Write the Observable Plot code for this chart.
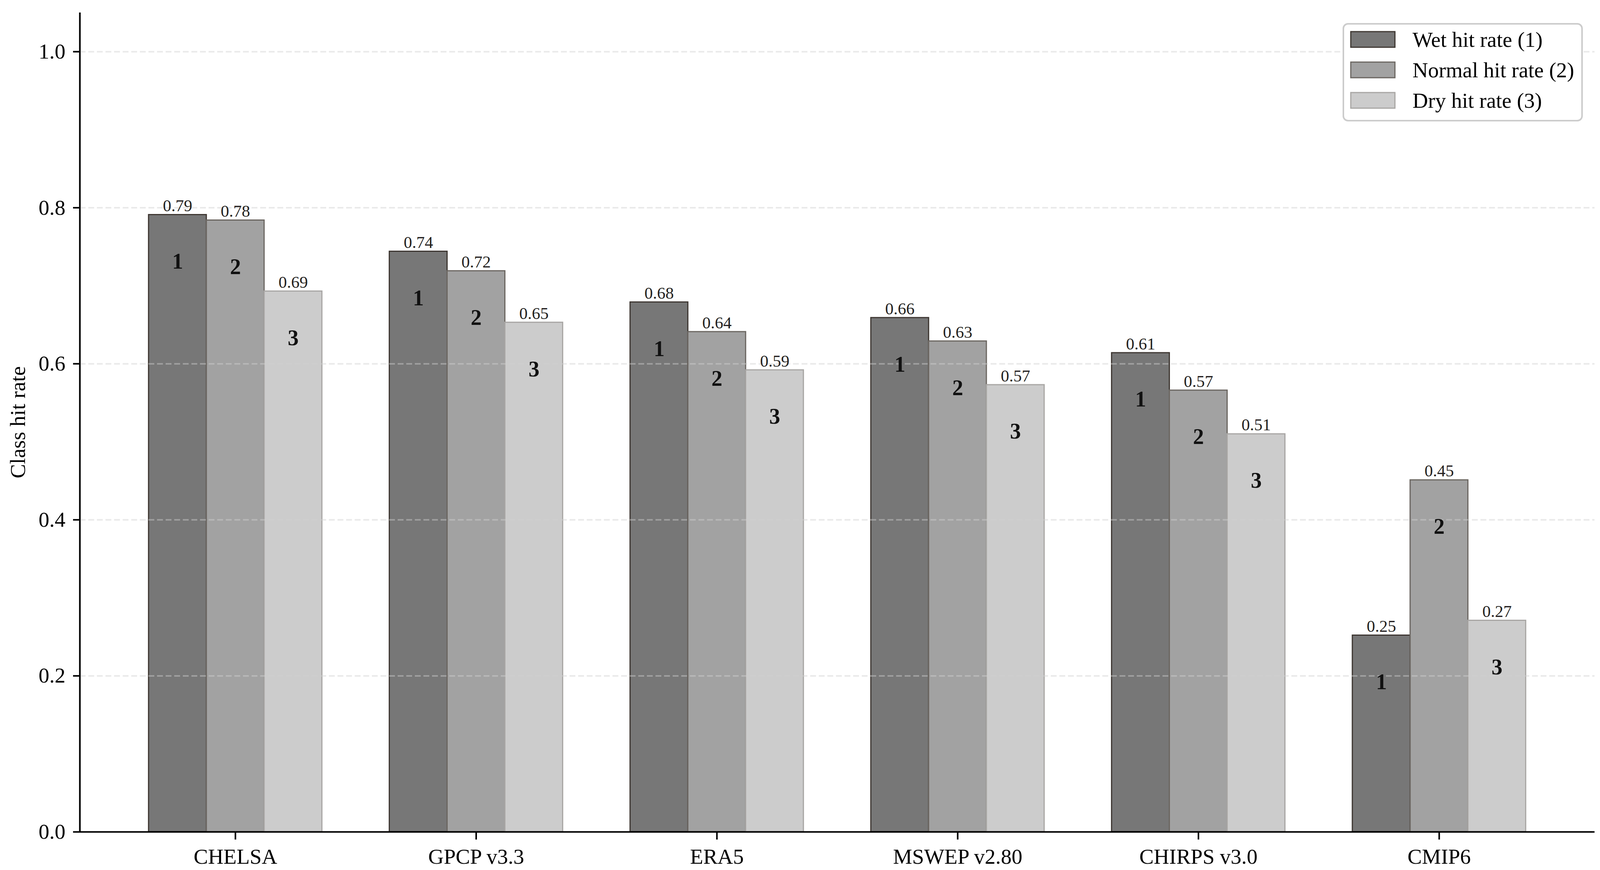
<!DOCTYPE html>
<html>
<head>
<meta charset="utf-8">
<script src="https://cdn.jsdelivr.net/npm/d3@7"></script>
<script src="https://cdn.jsdelivr.net/npm/@observablehq/plot@0.6"></script>
<style>
  html, body { margin: 0; padding: 0; background: #ffffff; overflow: hidden; }
  #wrap { position: relative; width: 4109px; height: 2228px; }
  #wrap > svg:first-child { display: block; }
  #legend { position: absolute; left: 3437px; top: 59px; }
</style>
</head>
<body>
<div id="wrap"></div>
<script>
// ---- data ----
const datasets = ["CHELSA", "GPCP v3.3", "ERA5", "MSWEP v2.80", "CHIRPS v3.0", "CMIP6"];
const classNames = ["Wet hit rate (1)", "Normal hit rate (2)", "Dry hit rate (3)"];
const classNumbers = ["1", "2", "3"];
const wetRate    = [0.791, 0.744, 0.679, 0.659, 0.614, 0.252];
const normalRate = [0.784, 0.719, 0.641, 0.629, 0.566, 0.451];
const dryRate    = [0.693, 0.653, 0.592, 0.573, 0.510, 0.271];
const yTicks = [0, 0.2, 0.4, 0.6, 0.8, 1.0];
const gridTicks = [0.2, 0.4, 0.6, 0.8, 1.0];

// ---- styles ----
const fills = ["#777777", "#a2a2a2", "#cccccc"];
const strokes = ["#3d3631", "#6b6661", "#a8a6a4"];
const barWidth = 0.24;
const xDomain = [-0.646, 5.646];
const yDomain = [0, 1.05];
const font = "'Liberation Serif', 'Times New Roman', serif";

const series = [wetRate, normalRate, dryRate];
const rows = [];
series.forEach((vals, k) => {
  vals.forEach((v, i) => {
    const c = i + (k - 1) * barWidth;
    rows.push({i, k, dataset: datasets[i], cls: classNames[k], num: classNumbers[k], value: v,
               x1: c - barWidth / 2, x2: c + barWidth / 2, xc: c});
  });
});
const fmt2 = d3.format(".2f");

const barMarks = [0, 1, 2].map(k =>
  Plot.rectY(rows.filter(d => d.k === k), {
    x1: "x1", x2: "x2", y1: 0, y2: "value",
    fill: fills[k], stroke: strokes[k], strokeWidth: 3
  })
);

const chart = Plot.plot({
  width: 4109,
  height: 2228,
  marginLeft: 204,
  marginRight: 27,
  marginTop: 32,
  marginBottom: 98,
  style: {fontFamily: font, background: "white", color: "black"},
  x: {type: "linear", domain: xDomain, axis: null},
  y: {domain: yDomain, axis: null},
  marks: [
    ...barMarks,
    Plot.ruleY(gridTicks, {stroke: "#d0d0d0", strokeOpacity: 0.45, strokeWidth: 4, strokeDasharray: "15,7"}),
    Plot.text(rows, {x: "xc", y: "value", text: d => fmt2(d.value), lineAnchor: "bottom",
                     dy: -9, fontSize: 43, fill: "#231f20"}),
    Plot.text(rows, {x: "xc", y: d => d.value - 0.06, text: "num", lineAnchor: "middle",
                     fontSize: 56, fontWeight: "bold", fill: "#111111"}),
    Plot.ruleY([0], {stroke: "black", strokeWidth: 4.2}),
    Plot.ruleX([xDomain[0]], {y1: yDomain[0], y2: yDomain[1], stroke: "black", strokeWidth: 4.2}),
    Plot.axisY(yTicks, {tickSize: 17, tickPadding: 20, fontSize: 55, tickFormat: d3.format(".1f"),
                        strokeWidth: 4, label: null, fill: "black"}),
    Plot.axisX(d3.range(datasets.length), {tickSize: 20, tickPadding: 22, fontSize: 55,
                        tickFormat: i => datasets[i], strokeWidth: 4, label: null, fill: "black"}),
    Plot.text(["Class hit rate"], {frameAnchor: "left", rotate: -90, dx: -141, lineAnchor: "bottom",
                        textAnchor: "middle", fontSize: 55, fill: "black"})
  ]
});
document.getElementById("wrap").appendChild(chart);

// ---- legend (overlay, upper right) ----
const lg = d3.select("#wrap").append("svg")
  .attr("id", "legend")
  .attr("width", 615).attr("height", 252)
  .attr("font-family", font);
lg.append("rect").attr("x", 2).attr("y", 2).attr("width", 611).attr("height", 248)
  .attr("rx", 12).attr("fill", "white").attr("stroke", "#cccccc").attr("stroke-width", 4);
classNames.forEach((name, k) => {
  lg.append("rect").attr("x", 21).attr("y", 22 + k * 78).attr("width", 113).attr("height", 40)
    .attr("fill", fills[k]).attr("stroke", strokes[k]).attr("stroke-width", 3);
  lg.append("text").attr("x", 179).attr("y", 61 + k * 78).attr("font-size", 55)
    .attr("fill", "black").text(name);
});
</script>
</body>
</html>
